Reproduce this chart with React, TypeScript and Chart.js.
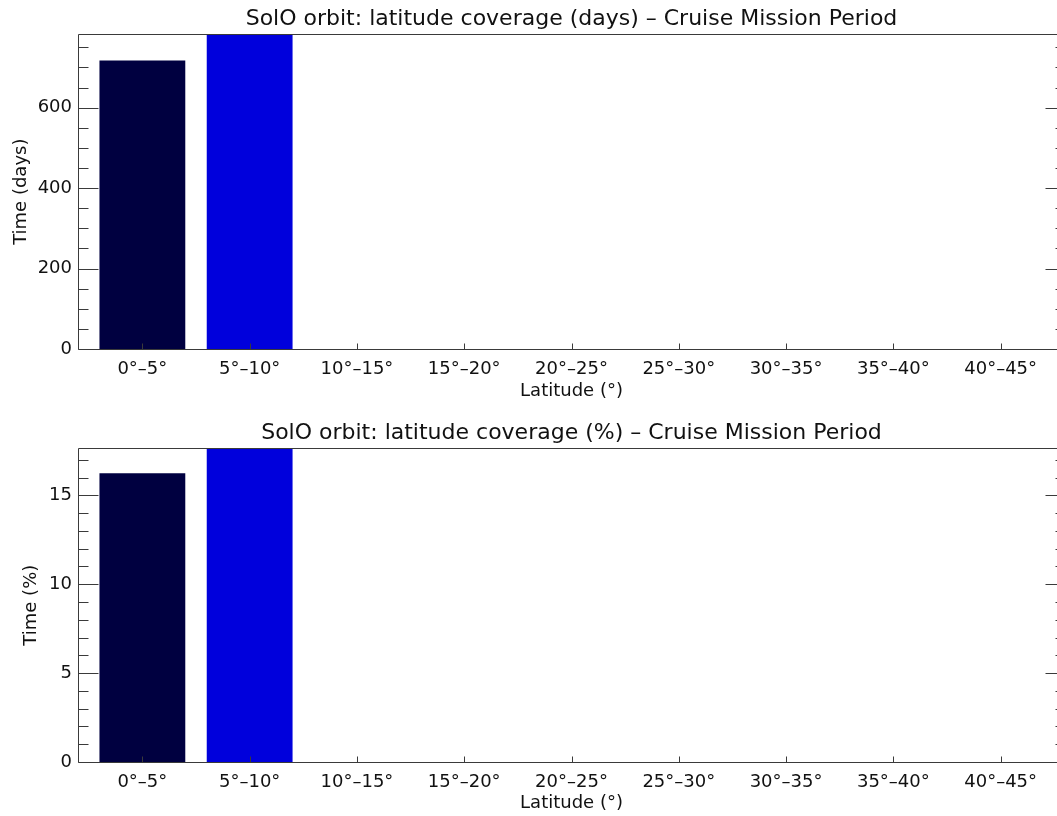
import React, { useEffect, useRef } from "react";
import { Chart, registerables } from "chart.js";

Chart.register(...registerables);

// ---- data ----
const latitudeBins = ["0°–5°", "5°–10°", "10°–15°", "15°–20°", "20°–25°", "25°–30°", "30°–35°", "35°–40°", "40°–45°"];
const daysValues = [717, 900, 0, 0, 0, 0, 0, 0, 0];
const percentValues = [16.24, 20.4, 0, 0, 0, 0, 0, 0, 0];
const barColors = ["#000040", "#0000dc", "#0000dc", "#0000dc", "#0000dc", "#0000dc", "#0000dc", "#0000dc", "#0000dc"];

const daysAxisMax = 782;
const daysTickLabels = [0, 200, 400, 600];
const daysMajorStep = 200;
const daysMinorStep = 50;
const percentAxisMax = 17.64;
const percentTickLabels = [0, 5, 10, 15];
const percentMajorStep = 5;
const percentMinorStep = 1;

const titleDays = "SolO orbit: latitude coverage (days) – Cruise Mission Period";
const titlePercent = "SolO orbit: latitude coverage (%) – Cruise Mission Period";
const xTitle = "Latitude (°)";
const yTitleDays = "Time (days)";
const yTitlePercent = "Time (%)";

const TEXT = "#111111";
const AXIS = "#3a3a3a";
const FONT = "'DejaVu Sans', sans-serif";

const idlAxes = {
  id: "idlAxes",
  afterDatasetsDraw(chart: any, _args: any, opts: any) {
    const { ctx, chartArea: a, scales } = chart;
    const x = scales.x;
    const y = scales.y;
    const L = Math.round(a.left) + 0.5;
    const R = Math.round(a.right) + 0.5;
    const T = Math.round(a.top) + 0.5;
    const B = Math.round(a.bottom) + 0.5;
    ctx.save();
    ctx.strokeStyle = AXIS;
    ctx.lineWidth = 1;
    ctx.beginPath();
    ctx.moveTo(L, T);
    ctx.lineTo(R, T);
    ctx.lineTo(R, B);
    ctx.lineTo(L, B);
    ctx.closePath();
    // y ticks (left and right, inward)
    const ratio = Math.round(opts.major / opts.minor);
    for (let k = 0; k * opts.minor <= opts.max + 1e-9; k++) {
      const v = k * opts.minor;
      const py = Math.round(y.getPixelForValue(v)) + 0.5;
      const len = k % ratio === 0 ? 20 : 10;
      ctx.moveTo(L, py);
      ctx.lineTo(L + len, py);
      ctx.moveTo(R, py);
      ctx.lineTo(R - len, py);
    }
    // x ticks (bottom, inward)
    for (let i = 0; i < latitudeBins.length; i++) {
      const px = Math.round(x.getPixelForValue(i)) + 0.5;
      ctx.moveTo(px, B);
      ctx.lineTo(px, B - 6);
    }
    ctx.stroke();
    ctx.restore();
  },
};

interface PanelCfg {
  values: number[];
  title: string;
  yTitle: string;
  max: number;
  tickLabels: number[];
  major: number;
  minor: number;
  titlePadTop: number;
  titlePadBottom: number;
  yTitlePadTop: number;
  xHeight: number;
  xTitlePadBottom: number;
}

function makeChart(canvas: HTMLCanvasElement, p: PanelCfg) {
  return new Chart(canvas, {
    type: "bar",
    data: {
      datasets: [
        {
          data: p.values.map((v, i) => ({ x: i, y: v })) as any,
          backgroundColor: barColors,
          borderWidth: 0,
          categoryPercentage: 0.8,
          barPercentage: 1.0,
        },
      ],
    },
    options: {
      responsive: false,
      animation: false,
      devicePixelRatio: 1,
      layout: { padding: { left: 0, right: 5, top: 0, bottom: 0 } },
      plugins: {
        legend: { display: false },
        tooltip: { enabled: false },
        title: {
          display: true,
          text: p.title,
          fullSize: false,
          color: TEXT,
          font: { family: FONT, size: 22, weight: "normal" as any },
          padding: { top: p.titlePadTop, bottom: p.titlePadBottom },
        },
        idlAxes: { max: p.max, major: p.major, minor: p.minor },
      } as any,
      scales: {
        x: {
          type: "linear",
          min: -0.6,
          max: 8.6,
          offset: false,
          grid: { display: false, drawTicks: false, offset: false },
          border: { display: false },
          afterBuildTicks: (s: any) => {
            s.ticks = latitudeBins.map((_, i) => ({ value: i }));
          },
          ticks: {
            autoSkip: false,
            maxRotation: 0,
            padding: 10,
            color: TEXT,
            font: { family: FONT, size: 18 },
            callback: (v: any) => latitudeBins[Math.round(Number(v))] ?? "",
          },
          title: {
            display: true,
            text: xTitle,
            color: TEXT,
            font: { family: FONT, size: 18 },
            padding: { top: 0, bottom: p.xTitlePadBottom },
          },
          afterFit: (s: any) => {
            s.height = p.xHeight;
          },
        },
        y: {
          type: "linear",
          min: 0,
          max: p.max,
          grid: { display: false, drawTicks: false },
          border: { display: false },
          afterBuildTicks: (s: any) => {
            s.ticks = p.tickLabels.map((v) => ({ value: v }));
          },
          ticks: {
            autoSkip: false,
            padding: 6,
            color: TEXT,
            font: { family: FONT, size: 18 },
          },
          title: {
            display: true,
            text: p.yTitle,
            color: TEXT,
            font: { family: FONT, size: 18 },
            padding: { top: p.yTitlePadTop, bottom: 0 },
          },
          afterFit: (s: any) => {
            s.width = 78;
          },
        },
      } as any,
    },
    plugins: [idlAxes as any],
  });
}

export default function App() {
  const topRef = useRef<HTMLCanvasElement>(null);
  const botRef = useRef<HTMLCanvasElement>(null);

  useEffect(() => {
    const c1 = makeChart(topRef.current!, {
      values: daysValues,
      title: titleDays,
      yTitle: yTitleDays,
      max: daysAxisMax,
      tickLabels: daysTickLabels,
      major: daysMajorStep,
      minor: daysMinorStep,
      titlePadTop: 6,
      titlePadBottom: 2,
      yTitlePadTop: 11,
      xHeight: 59,
      xTitlePadBottom: 6,
    });
    const c2 = makeChart(botRef.current!, {
      values: percentValues,
      title: titlePercent,
      yTitle: yTitlePercent,
      max: percentAxisMax,
      tickLabels: percentTickLabels,
      major: percentMajorStep,
      minor: percentMinorStep,
      titlePadTop: 12,
      titlePadBottom: 2,
      yTitlePadTop: 21,
      xHeight: 54,
      xTitlePadBottom: 2,
    });
    return () => {
      c1.destroy();
      c2.destroy();
    };
  }, []);

  return (
    <div
      style={{
        position: "fixed",
        left: 0,
        top: 0,
        width: 1057,
        height: 816,
        overflow: "hidden",
        background: "#ffffff",
      }}
    >
      <canvas ref={topRef} width={1070} height={408} style={{ position: "absolute", left: 0, top: 0 }} />
      <canvas ref={botRef} width={1070} height={408} style={{ position: "absolute", left: 0, top: 408 }} />
    </div>
  );
}
